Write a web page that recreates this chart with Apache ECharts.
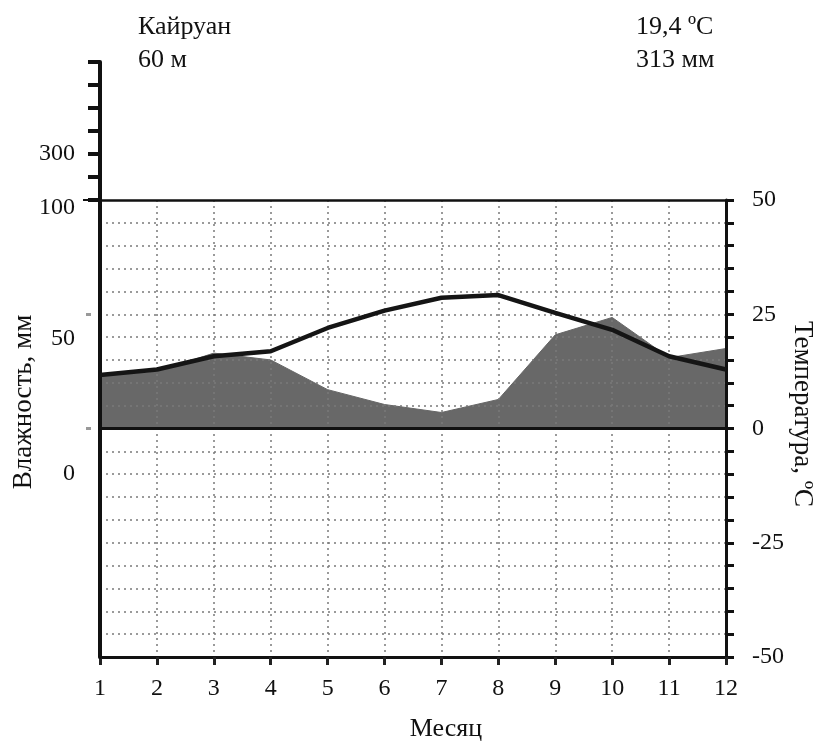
<!DOCTYPE html>
<html>
<head>
<meta charset="utf-8">
<script src="https://cdn.jsdelivr.net/npm/echarts@6/dist/echarts.min.js"></script>
<style>html,body{margin:0;padding:0;background:#fff;}#c{width:817px;height:744px;}</style>
</head>
<body>
<div id="c"></div>
<script>
const months = [1, 2, 3, 4, 5, 6, 7, 8, 9, 10, 11, 12];
const temperature = [11.7, 12.9, 15.8, 16.9, 22.0, 25.8, 28.6, 29.2, 25.3, 21.6, 15.8, 12.9];
const precipitation = [23, 25, 33, 30, 17, 10.5, 7, 12.7, 41, 48.6, 31, 35];
const tempTickLabels = [50, 25, 0, -25, -50];
const precipTickLabels = [100, 50, 0];
const upperPrecipTicks = [100, 200, 300, 400, 500, 600, 700];
const upperPrecipLabels = [300];
const stationName = 'Кайруан';
const stationHeight = '60 м';
const meanTemp = '19,4 ºC';
const totalPrecip = '313 мм';

const FONT = '"Liberation Serif", "Times New Roman", serif';
const TICK_FS = 24;
const chart = echarts.init(document.getElementById('c'), null, {renderer: 'canvas'});

const dotted = {type: [2, 4], color: '#7a7a7a', width: 1.5};

const option = {
  backgroundColor: '#fff',
  animation: false,
  grid: [
    {left: 100, right: 91, top: 200, bottom: 87},
    {left: 100, width: 1, top: 62, height: 138}
  ],
  xAxis: [
    {
      type: 'value', gridIndex: 0, min: 1, max: 12, interval: 1, position: 'bottom',
      axisLine: {onZero: false, lineStyle: {color: '#111', width: 3}},
      axisTick: {show: true, length: 8, lineStyle: {color: '#222', width: 3}},
      axisLabel: {margin: 20, fontFamily: FONT, fontSize: TICK_FS, color: '#111'},
      splitLine: {show: true, showMinLine: false, showMaxLine: false, lineStyle: dotted},
      z: 4
    },
    {type: 'value', gridIndex: 1, min: 0, max: 1, show: false},
    {
      type: 'value', gridIndex: 0, min: 1, max: 12, position: 'top',
      axisLine: {show: true, onZero: false, lineStyle: {color: '#111', width: 2.5}},
      axisTick: {show: false}, axisLabel: {show: false}, splitLine: {show: false},
      z: 4
    }
  ],
  yAxis: [
    {
      type: 'value', gridIndex: 0, position: 'right', min: -50, max: 50, interval: 5,
      axisLine: {show: true, lineStyle: {color: '#111', width: 3}},
      axisTick: {show: true, length: 8, lineStyle: {color: '#111', width: 3}},
      axisLabel: {margin: 26, fontFamily: FONT, fontSize: TICK_FS, color: '#111', customValues: tempTickLabels},
      splitLine: {show: true, showMinLine: false, showMaxLine: false, lineStyle: dotted},
      z: 4
    },
    {
      type: 'value', gridIndex: 0, position: 'left', min: -100, max: 100,
      axisLine: {show: true, lineStyle: {color: '#111', width: 4}},
      axisTick: {show: true, length: 17, customValues: [100], lineStyle: {color: '#111', width: 2}},
      axisLabel: {
        margin: 25, fontFamily: FONT, fontSize: TICK_FS, color: '#111', customValues: precipTickLabels,
        formatter: function (v) {
          if (v === 100) return '{a|' + v + '}';
          if (v === 50) return '{b|' + v + '}';
          return '{c|' + v + '}';
        },
        rich: {
          a: {fontFamily: FONT, fontSize: TICK_FS, color: '#111', padding: [16, 0, 0, 0]},
          b: {fontFamily: FONT, fontSize: TICK_FS, color: '#111', padding: [48, 0, 0, 0]},
          c: {fontFamily: FONT, fontSize: TICK_FS, color: '#111', padding: [90, 0, 0, 0]}
        }
      },
      splitLine: {show: false},
      z: 5
    },
    {
      type: 'value', gridIndex: 1, position: 'left', min: 100, max: 700, interval: 100,
      axisLine: {show: true, lineStyle: {color: '#111', width: 4}},
      axisTick: {show: true, length: 12, customValues: upperPrecipTicks, lineStyle: {color: '#111', width: 4}},
      axisLabel: {margin: 25, fontFamily: FONT, fontSize: TICK_FS, color: '#111', customValues: upperPrecipLabels},
      splitLine: {show: false}
    },
    {
      type: 'value', gridIndex: 0, position: 'left', offset: 9, min: -100, max: 100,
      axisLine: {show: false},
      axisTick: {show: true, length: 5, customValues: [50, 0], lineStyle: {color: '#999', width: 3}},
      axisLabel: {show: false},
      splitLine: {show: false}
    }
  ],
  series: [
    {
      type: 'line', xAxisIndex: 0, yAxisIndex: 1, z: 2,
      data: months.map((m, i) => [m, precipitation[i]]),
      symbol: 'none',
      lineStyle: {width: 1, color: '#666'},
      areaStyle: {color: '#686868', opacity: 1}
    },
    {
      type: 'line', xAxisIndex: 0, yAxisIndex: 0, z: 6,
      data: months.map((m, i) => [m, temperature[i]]),
      symbol: 'none',
      lineStyle: {width: 4.5, color: '#151515'},
      markLine: {
        silent: true, symbol: 'none', label: {show: false},
        lineStyle: {type: 'solid', color: '#111', width: 3},
        data: [{yAxis: 0}]
      }
    }
  ],
  graphic: [
    {type: 'text', x: 138, y: 27, style: {text: stationName, fontFamily: FONT, fontSize: 26, fill: '#111', align: 'left', verticalAlign: 'middle'}},
    {type: 'text', x: 138, y: 60, style: {text: stationHeight, fontFamily: FONT, fontSize: 26, fill: '#111', align: 'left', verticalAlign: 'middle'}},
    {type: 'text', x: 636, y: 27, style: {text: meanTemp, fontFamily: FONT, fontSize: 26, fill: '#111', align: 'left', verticalAlign: 'middle'}},
    {type: 'text', x: 636, y: 60, style: {text: totalPrecip, fontFamily: FONT, fontSize: 26, fill: '#111', align: 'left', verticalAlign: 'middle'}},
    {type: 'text', x: 24, y: 402, rotation: Math.PI / 2, style: {text: 'Влажность, мм', fontFamily: FONT, fontSize: 27, fill: '#111', align: 'center', verticalAlign: 'middle'}},
    {type: 'text', x: 802, y: 414, rotation: -Math.PI / 2, style: {text: 'Температура, ºC', fontFamily: FONT, fontSize: 27, fill: '#111', align: 'center', verticalAlign: 'middle'}},
    {type: 'text', x: 446, y: 729, style: {text: 'Месяц', fontFamily: FONT, fontSize: 26, fill: '#111', align: 'center', verticalAlign: 'middle'}}
  ]
};
chart.setOption(option);
</script>
</body>
</html>
